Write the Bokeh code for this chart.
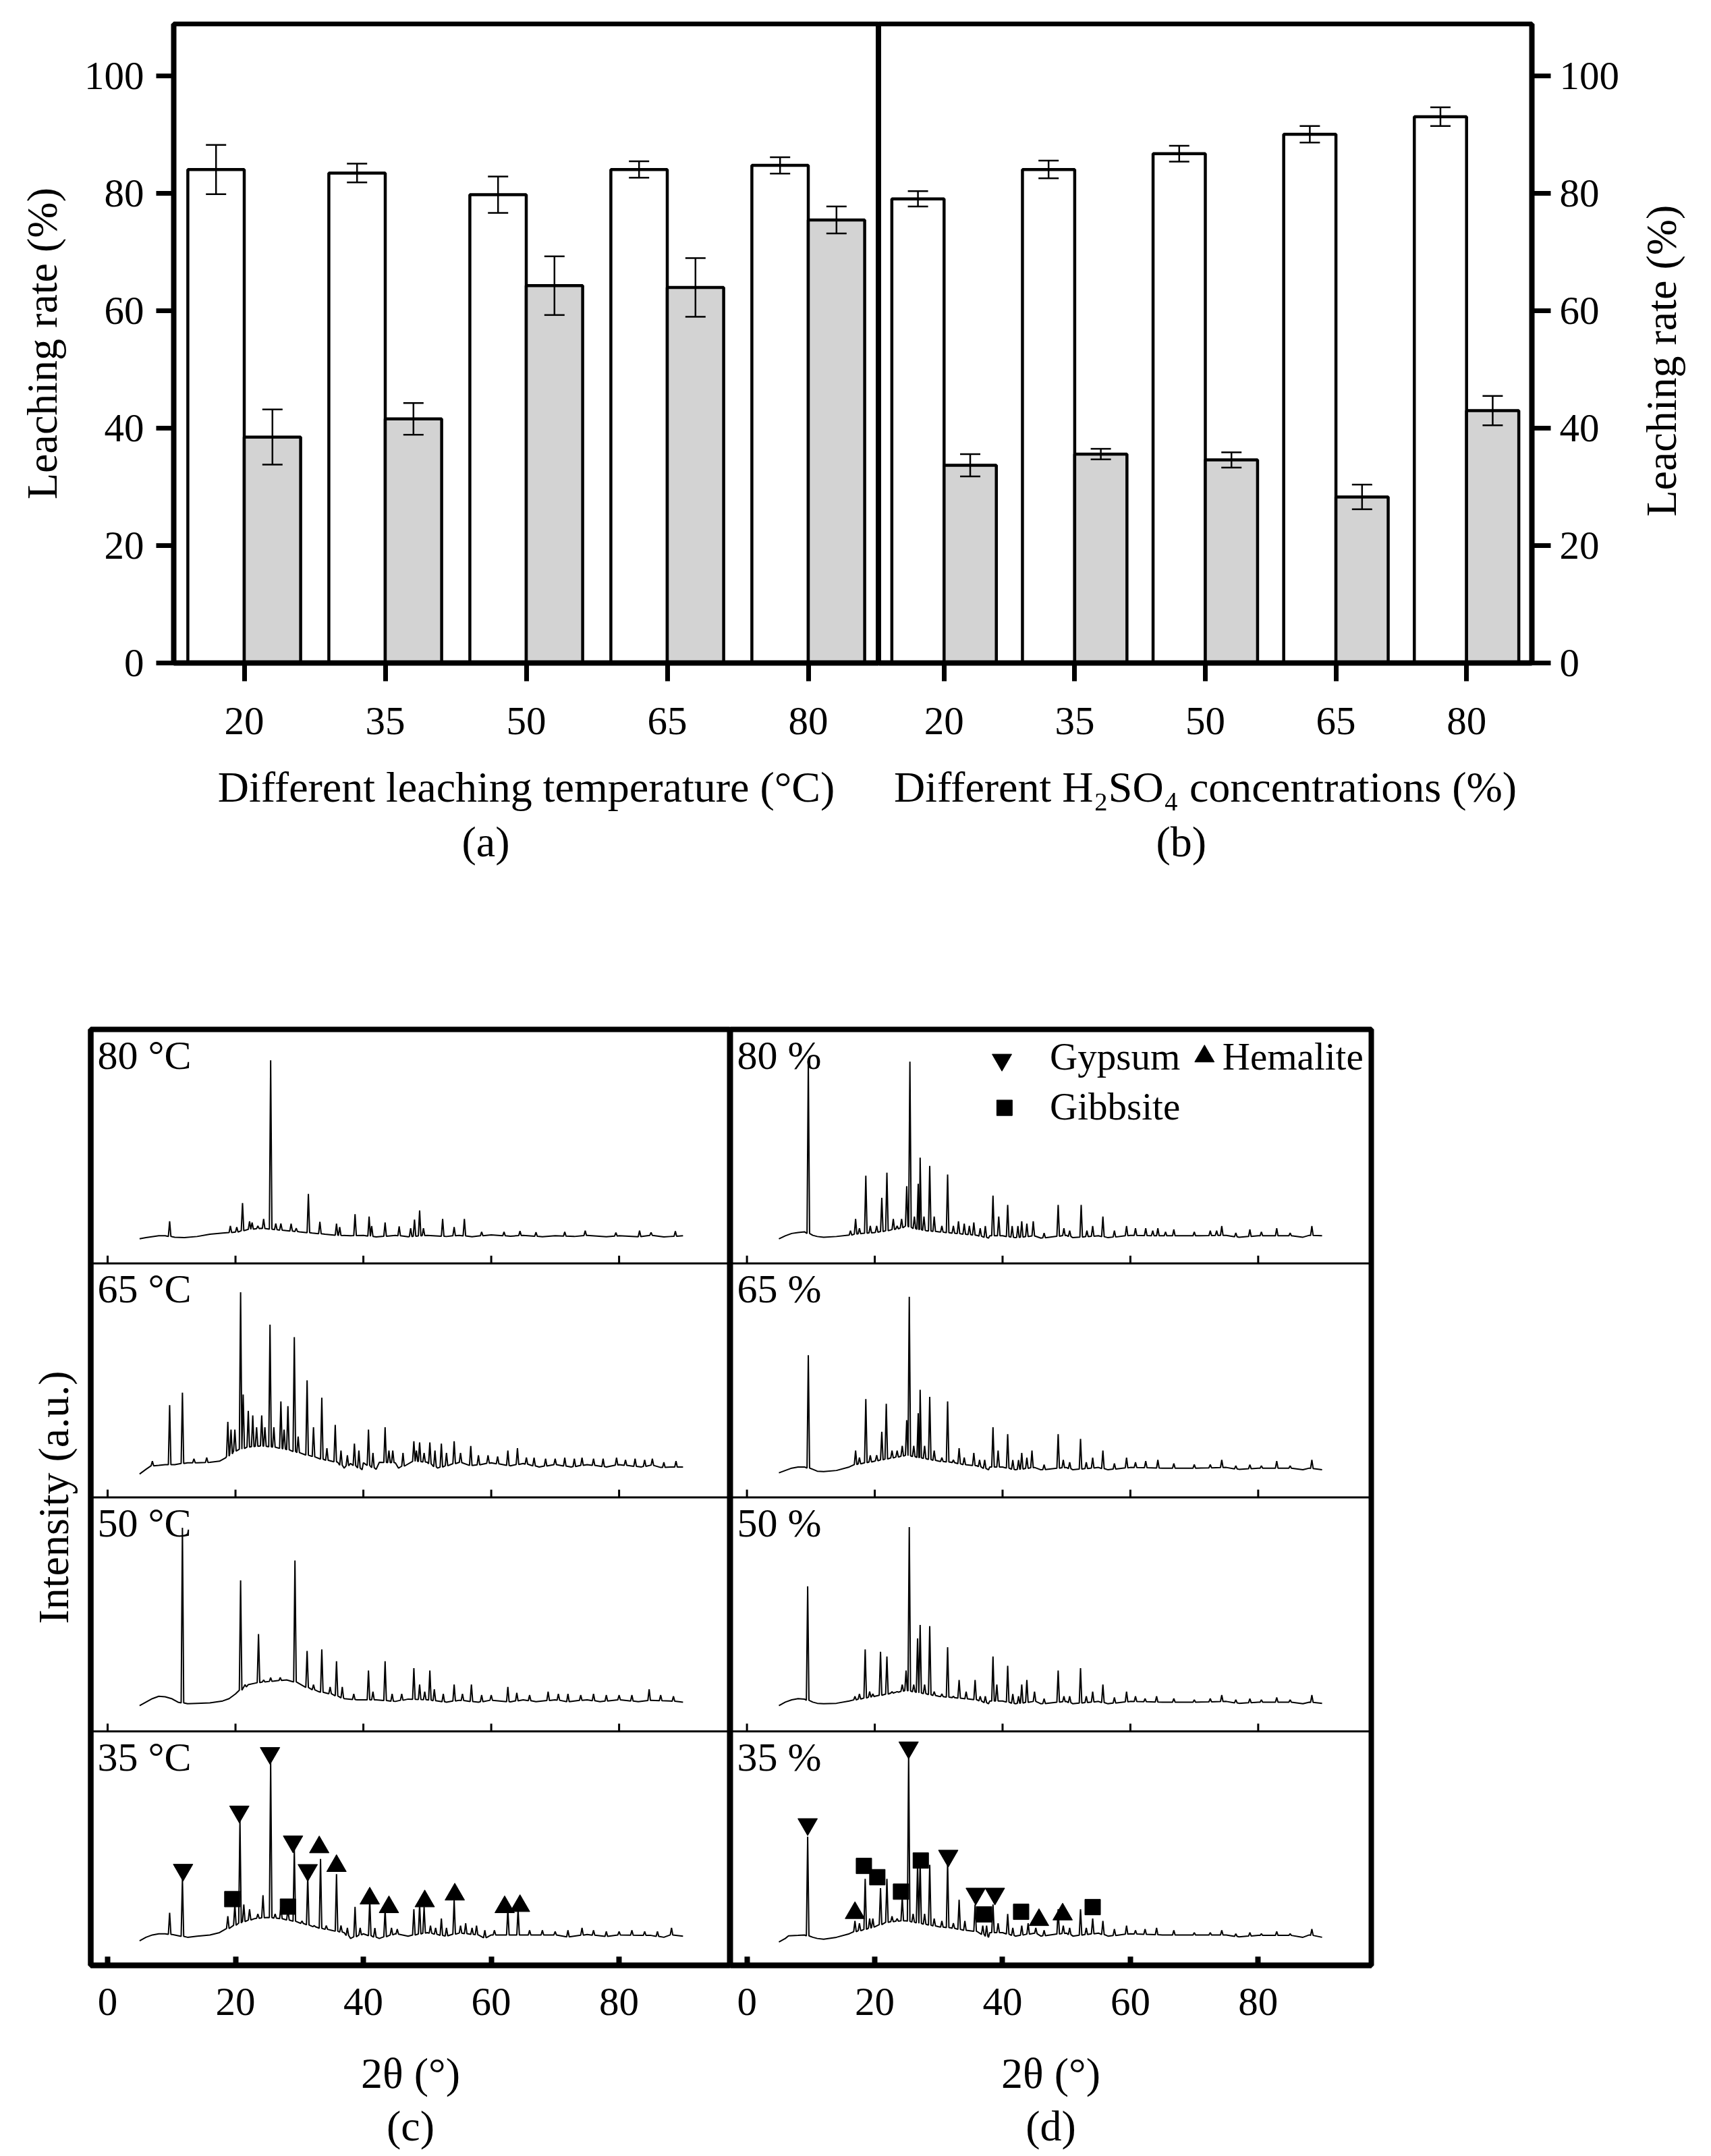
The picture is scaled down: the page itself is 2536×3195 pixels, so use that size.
import math
import numpy as np
from bokeh.plotting import figure
from bokeh.layouts import column, row
from bokeh.models import (ColumnDataSource, FactorRange, Range1d, FixedTicker,
                          Whisker, TeeHead, Span, Title)
from bokeh.transform import dodge
from bokeh.core.properties import value
from bokeh.embed import file_html
from bokeh.resources import INLINE

FONT = "Liberation Serif"
TICK_FS = "59px"
LABEL_FS = "64px"
PANEL_FS = "60px"
LEGEND_FS = "57px"

# ---------------- data: leaching rates ----------------
categories = ["20", "35", "50", "65", "80"]
temp_white = [84.1, 83.5, 79.8, 84.1, 84.8]
temp_white_err = [4.2, 1.6, 3.1, 1.4, 1.4]
temp_gray = [38.5, 41.6, 64.3, 64.0, 75.5]
temp_gray_err = [4.7, 2.7, 5.0, 5.0, 2.3]
conc_white = [79.1, 84.1, 86.8, 90.1, 93.1]
conc_white_err = [1.3, 1.5, 1.35, 1.4, 1.6]
conc_gray = [33.7, 35.6, 34.6, 28.3, 43.0]
conc_gray_err = [1.9, 0.9, 1.3, 2.1, 2.5]
rate_ticks = [0, 20, 40, 60, 80, 100]

# ---------------- data: XRD patterns (2theta, relative intensity within panel) ----------------
two_theta_ticks = [0, 20, 40, 60, 80]
c_labels = ["35 °C", "50 °C", "65 °C", "80 °C"]
d_labels = ["35 %", "50 %", "65 %", "80 %"]

c80_base = [(5, 0.105), (6, 0.11), (8, 0.118), (9, 0.118), (10.5, 0.112), (12, 0.11), (14, 0.115),
            (16, 0.125), (18, 0.13), (20, 0.133), (22, 0.145), (24, 0.15), (26, 0.145), (28, 0.14),
            (30, 0.135), (32, 0.13), (34, 0.125), (36, 0.12), (38, 0.118), (40, 0.12), (42, 0.113),
            (45, 0.12), (47, 0.114), (50, 0.12), (53, 0.115), (55, 0.12), (57, 0.114), (60, 0.122),
            (63, 0.116), (65, 0.12), (68, 0.114), (70, 0.118), (73, 0.115), (75, 0.12), (78, 0.114),
            (80, 0.118), (83, 0.114), (85, 0.12), (87, 0.113), (88, 0.115), (90, 0.118)]
c80_peaks = [(9.7, 0.18), (19.2, 0.16), (20.2, 0.155), (21.1, 0.258), (22.2, 0.18), (22.6, 0.175),
             (23.5, 0.16), (24.4, 0.19), (25.5, 0.868), (26.3, 0.17), (27.1, 0.17), (28.7, 0.17),
             (29.5, 0.15), (31.4, 0.297), (33.2, 0.178), (35.8, 0.17), (36.3, 0.155), (38.7, 0.21),
             (40.9, 0.2), (41.3, 0.16), (43.4, 0.175), (45.6, 0.158), (47.4, 0.15), (48.0, 0.187),
             (48.8, 0.226), (49.4, 0.15), (52.4, 0.19), (54.2, 0.155), (55.8, 0.19), (58.5, 0.135),
             (62, 0.135), (64.5, 0.138), (67, 0.133), (71.5, 0.135), (74.7, 0.14), (79.5, 0.132),
             (83.2, 0.14), (85.0, 0.132), (88.8, 0.138)]

c65_base = [(5, 0.10), (6, 0.12), (7, 0.135), (8, 0.137), (9, 0.14), (10.5, 0.14), (12.5, 0.148),
            (14, 0.148), (16, 0.15), (17.5, 0.155), (18.5, 0.17), (20, 0.2), (22, 0.215), (24, 0.22),
            (26, 0.215), (28, 0.205), (30, 0.19), (32, 0.175), (34, 0.16), (36, 0.15), (37, 0.125),
            (38, 0.145), (39.8, 0.118), (40, 0.148), (42, 0.12), (42.5, 0.15), (45, 0.148),
            (45.5, 0.125), (48, 0.155), (50, 0.15), (51.6, 0.125), (55, 0.15), (57, 0.135),
            (60, 0.148), (63, 0.135), (65, 0.145), (67.5, 0.13), (70, 0.14), (72.5, 0.13), (75, 0.14),
            (78, 0.13), (80, 0.14), (83.5, 0.13), (85, 0.138), (86.5, 0.128), (88, 0.13), (90, 0.13)]
c65_peaks = [(7.0, 0.155), (9.7, 0.394), (11.7, 0.448), (13.5, 0.165), (15.5, 0.17), (18.8, 0.323),
             (19.3, 0.29), (19.9, 0.29), (20.8, 0.877), (21.2, 0.44), (22.0, 0.37), (22.7, 0.35),
             (23.3, 0.3), (24.1, 0.35), (24.6, 0.3), (25.4, 0.738), (26.0, 0.3), (27.1, 0.41),
             (27.6, 0.29), (28.2, 0.39), (29.2, 0.685), (29.8, 0.26), (31.2, 0.5), (32.2, 0.3),
             (33.5, 0.426), (34.3, 0.21), (35.6, 0.31), (36.5, 0.2), (37.5, 0.18), (38.6, 0.23),
             (39.3, 0.2), (40.8, 0.29), (41.5, 0.19), (43.4, 0.3), (44.0, 0.2), (44.6, 0.2),
             (46.2, 0.19), (47.9, 0.24), (48.3, 0.2), (48.8, 0.235), (49.5, 0.19), (50.4, 0.235),
             (51.2, 0.2), (52.2, 0.23), (53.0, 0.19), (54.2, 0.24), (55.2, 0.19), (56.8, 0.22),
             (58.0, 0.18), (59.5, 0.18), (61.0, 0.175), (62.6, 0.2), (64.1, 0.21), (65.5, 0.17),
             (66.7, 0.17), (68.5, 0.165), (70.0, 0.165), (71.5, 0.17), (73.0, 0.165), (74.2, 0.17),
             (76.0, 0.165), (77.5, 0.165), (79.6, 0.17), (81.0, 0.16), (82.5, 0.165), (84.0, 0.16),
             (85.2, 0.165), (87.0, 0.15), (88.9, 0.155)]

c50_base = [(5, 0.11), (6, 0.125), (7, 0.14), (8, 0.15), (9, 0.148), (10, 0.14), (11, 0.125),
            (12.5, 0.118), (14, 0.12), (16, 0.122), (18, 0.13), (19, 0.14), (20, 0.16), (22, 0.2),
            (24, 0.21), (26, 0.215), (28, 0.22), (29.5, 0.21), (31, 0.19), (33, 0.17), (35, 0.16),
            (37, 0.14), (39, 0.135), (42, 0.135), (45, 0.128), (47, 0.138), (50, 0.135), (53, 0.125),
            (55, 0.133), (58, 0.125), (60, 0.133), (63, 0.126), (65, 0.135), (67, 0.127), (70, 0.135),
            (72, 0.127), (75, 0.135), (77, 0.127), (80, 0.135), (83, 0.127), (85, 0.133), (88, 0.13),
            (90, 0.125)]
c50_peaks = [(11.7, 0.87), (20.8, 0.645), (21.5, 0.2), (23.6, 0.416), (24.4, 0.22), (25.5, 0.23),
             (27.0, 0.23), (29.3, 0.73), (31.2, 0.344), (32.2, 0.2), (33.5, 0.35), (34.8, 0.19),
             (35.8, 0.3), (36.7, 0.19), (38.5, 0.16), (40.8, 0.26), (41.5, 0.17), (43.4, 0.3),
             (44.5, 0.16), (46.0, 0.16), (47.9, 0.27), (48.8, 0.2), (49.6, 0.17), (50.4, 0.26),
             (51.1, 0.18), (52.5, 0.16), (54.2, 0.2), (55.5, 0.16), (56.9, 0.2), (58.5, 0.155),
             (60.0, 0.155), (62.6, 0.19), (64.0, 0.165), (66, 0.155), (68.9, 0.17), (70.5, 0.16),
             (72, 0.16), (74, 0.155), (76, 0.16), (78, 0.155), (80, 0.155), (82, 0.155), (84.7, 0.18),
             (86.5, 0.155), (88.5, 0.15)]

c35_base = [(5, 0.105), (6, 0.12), (7, 0.13), (8, 0.135), (9, 0.135), (10.5, 0.13), (12.5, 0.12),
            (14, 0.125), (16, 0.13), (17.5, 0.14), (19, 0.16), (21, 0.185), (23, 0.2), (25, 0.205),
            (27, 0.2), (29, 0.19), (31, 0.175), (33, 0.16), (35, 0.15), (37, 0.14), (38, 0.115),
            (40, 0.135), (42.5, 0.115), (45, 0.135), (47, 0.125), (50, 0.14), (52.8, 0.125),
            (55, 0.138), (58, 0.13), (59, 0.118), (60, 0.13), (65, 0.13), (70, 0.13), (72, 0.122),
            (75, 0.132), (78, 0.124), (80, 0.13), (85, 0.128), (87, 0.12), (88, 0.13), (90, 0.125)]
c35_peaks = [(9.7, 0.225), (11.7, 0.37), (18.8, 0.21), (19.9, 0.26), (20.7, 0.62), (21.3, 0.26),
             (22.2, 0.24), (23.5, 0.22), (24.3, 0.3), (25.5, 0.867), (26.2, 0.22), (27.1, 0.25),
             (28.2, 0.24), (29.2, 0.495), (30.4, 0.19), (31.3, 0.38), (32.3, 0.17), (33.3, 0.455),
             (34.2, 0.17), (35.8, 0.39), (36.5, 0.17), (37.5, 0.16), (38.7, 0.25), (39.5, 0.16),
             (41.0, 0.28), (41.8, 0.16), (43.4, 0.24), (44.4, 0.16), (45.3, 0.155), (47.9, 0.24),
             (48.8, 0.26), (49.5, 0.25), (50.5, 0.17), (51.3, 0.16), (52.2, 0.2), (53.0, 0.16),
             (54.2, 0.28), (55.2, 0.17), (56.0, 0.18), (57.0, 0.16), (57.7, 0.17), (59.0, 0.15),
             (60.5, 0.15), (62.6, 0.24), (64.2, 0.24), (66, 0.15), (68, 0.15), (70, 0.145),
             (72, 0.15), (74.2, 0.16), (76, 0.15), (78, 0.145), (80, 0.145), (82, 0.15), (84, 0.145),
             (86, 0.145), (88.2, 0.16)]

d80_base = [(5, 0.105), (6, 0.118), (7, 0.128), (8, 0.132), (9, 0.135), (10.3, 0.12), (11, 0.115),
            (12, 0.112), (14, 0.115), (16, 0.12), (17, 0.125), (18, 0.128), (20, 0.132), (22, 0.14),
            (24, 0.15), (25, 0.16), (26, 0.15), (28, 0.14), (30, 0.135), (32, 0.13), (34, 0.125),
            (36, 0.12), (37.8, 0.108), (38, 0.118), (40, 0.118), (42, 0.11), (45, 0.118), (46, 0.108),
            (50, 0.12), (51, 0.11), (55, 0.118), (56.5, 0.11), (60, 0.12), (65, 0.118), (70, 0.118),
            (75, 0.12), (77, 0.112), (80, 0.118), (85, 0.118), (87, 0.112), (88, 0.12), (90, 0.118)]
d80_peaks = [(9.6, 0.862), (16.2, 0.14), (17.0, 0.19), (17.6, 0.15), (18.6, 0.375), (19.3, 0.16),
             (20.3, 0.16), (21.1, 0.28), (21.9, 0.388), (22.9, 0.19), (23.5, 0.16), (24.2, 0.19),
             (25.0, 0.33), (25.5, 0.862), (26.2, 0.2), (26.8, 0.34), (27.1, 0.452), (27.7, 0.2),
             (28.6, 0.417), (29.3, 0.2), (30.5, 0.16), (31.4, 0.38), (32.3, 0.16), (33.1, 0.18),
             (34.0, 0.17), (34.8, 0.16), (35.5, 0.175), (36.5, 0.15), (37.3, 0.16), (38.5, 0.29),
             (39.4, 0.2), (40.8, 0.25), (41.5, 0.16), (42.4, 0.16), (43.0, 0.18), (43.8, 0.17),
             (44.8, 0.18), (46.5, 0.13), (48.7, 0.25), (49.6, 0.15), (50.5, 0.14), (52.3, 0.25),
             (53.2, 0.14), (54.1, 0.16), (55.7, 0.2), (57.5, 0.14), (59.4, 0.16), (60.8, 0.15),
             (62.4, 0.15), (63.5, 0.14), (64.3, 0.15), (65.5, 0.135), (66.8, 0.145), (70, 0.135),
             (72.5, 0.14), (73.5, 0.14), (74.3, 0.16), (76.5, 0.13), (78.7, 0.145), (80.5, 0.135),
             (82.9, 0.15), (85, 0.13), (88.4, 0.16)]

d65_base = [(5, 0.105), (6, 0.115), (7, 0.125), (8, 0.13), (9, 0.13), (10.3, 0.12), (11, 0.112),
            (12, 0.11), (14, 0.115), (16, 0.13), (17, 0.14), (18, 0.145), (20, 0.155), (22, 0.165),
            (24, 0.175), (25, 0.18), (26, 0.175), (28, 0.165), (30, 0.155), (32, 0.15), (34, 0.14),
            (36, 0.135), (37.8, 0.118), (38, 0.13), (40, 0.13), (42, 0.118), (45, 0.128),
            (46, 0.118), (50, 0.128), (51, 0.118), (55, 0.128), (56.5, 0.118), (60, 0.128),
            (65, 0.125), (70, 0.125), (75, 0.128), (77, 0.12), (80, 0.125), (85, 0.125), (87, 0.118),
            (88, 0.125), (90, 0.118)]
d65_peaks = [(9.6, 0.608), (17.0, 0.2), (17.6, 0.17), (18.6, 0.42), (19.3, 0.18), (20.3, 0.18),
             (21.1, 0.28), (21.8, 0.4), (22.7, 0.2), (23.5, 0.2), (24.3, 0.22), (25.0, 0.33),
             (25.4, 0.857), (26.1, 0.22), (26.8, 0.36), (27.1, 0.46), (27.8, 0.22), (28.6, 0.43),
             (29.3, 0.2), (30.5, 0.17), (31.4, 0.41), (32.3, 0.16), (33.2, 0.21), (34.0, 0.17),
             (35.5, 0.19), (36.4, 0.16), (37.2, 0.16), (38.5, 0.3), (39.3, 0.2), (40.8, 0.27),
             (41.6, 0.16), (42.5, 0.16), (43.0, 0.19), (43.8, 0.17), (44.6, 0.2), (46.5, 0.14),
             (48.7, 0.27), (49.5, 0.16), (50.5, 0.15), (52.2, 0.25), (53.1, 0.15), (54.1, 0.17),
             (55.7, 0.2), (57.5, 0.145), (59.4, 0.17), (60.8, 0.15), (62.4, 0.155), (64.3, 0.16),
             (66.8, 0.145), (70, 0.14), (72.5, 0.14), (74.3, 0.16), (76.5, 0.135), (78.7, 0.14),
             (80.5, 0.135), (82.9, 0.155), (85, 0.135), (88.4, 0.16)]

d50_base = [(5, 0.11), (6, 0.125), (7, 0.135), (8, 0.14), (9, 0.138), (10.3, 0.125), (11, 0.12),
            (12, 0.118), (14, 0.12), (16, 0.13), (17, 0.135), (18, 0.14), (20, 0.15), (22, 0.16),
            (24, 0.17), (25, 0.175), (26, 0.17), (28, 0.16), (30, 0.15), (32, 0.145), (34, 0.14),
            (36, 0.135), (37.8, 0.118), (38, 0.13), (40, 0.13), (42, 0.118), (45, 0.128),
            (46, 0.118), (50, 0.128), (51, 0.118), (55, 0.128), (56.5, 0.118), (60, 0.128),
            (65, 0.125), (70, 0.125), (75, 0.128), (77, 0.12), (80, 0.125), (85, 0.125),
            (87, 0.118), (88, 0.125), (90, 0.12)]
d50_peaks = [(9.5, 0.62), (16.9, 0.15), (17.6, 0.16), (18.5, 0.35), (19.2, 0.17), (19.7, 0.16),
             (20.9, 0.34), (21.9, 0.32), (22.7, 0.17), (23.5, 0.17), (24.3, 0.2), (24.9, 0.26),
             (25.4, 0.873), (26.1, 0.2), (26.7, 0.397), (27.1, 0.455), (27.8, 0.2), (28.6, 0.45),
             (29.3, 0.17), (30.5, 0.16), (31.4, 0.36), (32.3, 0.15), (33.2, 0.22), (34.3, 0.17),
             (35.7, 0.22), (36.5, 0.15), (37.3, 0.15), (38.5, 0.32), (39.1, 0.2), (40.8, 0.28),
             (41.6, 0.16), (42.5, 0.15), (43.0, 0.2), (43.8, 0.22), (45.0, 0.17), (46.5, 0.14),
             (48.7, 0.26), (49.6, 0.15), (50.5, 0.15), (52.2, 0.27), (53.1, 0.15), (54.1, 0.17),
             (55.7, 0.2), (57.5, 0.145), (59.4, 0.17), (60.8, 0.15), (62.3, 0.14), (64.1, 0.15),
             (66.8, 0.14), (70, 0.135), (72.5, 0.14), (74.3, 0.155), (76.5, 0.135), (78.7, 0.14),
             (80.5, 0.135), (82.9, 0.145), (85, 0.135), (88.4, 0.155)]

d35_base = [(5, 0.1), (6, 0.115), (6.5, 0.126), (8, 0.128), (9, 0.13), (10.3, 0.12), (11, 0.115),
            (12, 0.112), (14, 0.12), (16, 0.135), (17, 0.145), (18, 0.15), (20, 0.165), (22, 0.185),
            (24, 0.19), (25, 0.19), (26, 0.185), (28, 0.175), (30, 0.165), (32, 0.16), (34, 0.15),
            (36, 0.145), (37.8, 0.12), (38, 0.14), (40, 0.14), (42, 0.125), (45, 0.138),
            (46, 0.125), (50, 0.138), (51, 0.125), (55, 0.138), (56.5, 0.125), (60, 0.135),
            (65, 0.13), (70, 0.13), (75, 0.13), (77, 0.122), (80, 0.128), (85, 0.128), (87, 0.12),
            (88, 0.13), (90, 0.12)]
d35_peaks = [(9.5, 0.55), (16.9, 0.19), (17.6, 0.18), (18.5, 0.37), (19.2, 0.2), (19.7, 0.2),
             (20.9, 0.33), (21.9, 0.37), (22.7, 0.21), (23.5, 0.2), (24.3, 0.29), (25.3, 0.9),
             (26.0, 0.22), (26.7, 0.43), (27.1, 0.44), (27.8, 0.22), (28.6, 0.43), (29.3, 0.2),
             (30.5, 0.19), (31.4, 0.44), (32.3, 0.18), (33.2, 0.28), (34.1, 0.19), (35.7, 0.26),
             (36.9, 0.17), (37.5, 0.17), (38.5, 0.26), (39.3, 0.18), (40.8, 0.22), (41.6, 0.16),
             (43.0, 0.17), (44.0, 0.18), (45.2, 0.16), (46.5, 0.15), (48.7, 0.24), (49.5, 0.17),
             (50.5, 0.16), (52.2, 0.24), (53.1, 0.16), (54.1, 0.2), (55.7, 0.19), (57.5, 0.155),
             (59.4, 0.17), (60.8, 0.15), (62.3, 0.155), (64.1, 0.16), (66.8, 0.15), (70, 0.14),
             (72.5, 0.14), (74.3, 0.15), (76.5, 0.135), (78.7, 0.14), (80.5, 0.135), (82.9, 0.145),
             (85, 0.135), (88.4, 0.155)]

# phase marks (2theta, height) in the 35 panels
c35_gypsum = [(11.8, 0.408), (20.6, 0.657), (25.4, 0.907), (29.0, 0.529), (31.3, 0.407)]
c35_gibbsite = [(19.5, 0.283), (28.2, 0.251)]
c35_hemalite = [(33.1, 0.505), (35.8, 0.425), (41.0, 0.286), (44.0, 0.249), (49.6, 0.274),
                (54.3, 0.303), (62.1, 0.249), (64.5, 0.254)]
d35_gypsum = [(9.5, 0.603), (25.3, 0.931), (31.5, 0.468), (35.8, 0.306), (38.8, 0.306)]
d35_gibbsite = [(18.3, 0.425), (20.4, 0.377), (24.1, 0.315), (27.2, 0.448), (37.1, 0.218),
                (42.9, 0.229), (54.1, 0.249)]
d35_hemalite = [(16.9, 0.224), (45.7, 0.194), (49.4, 0.218)]
phase_names = ["Gypsum", "Hemalite", "Gibbsite"]


# ---------------- helpers ----------------
def style_axis(ax, tick_out, tick_in, tick_w, label_standoff, axis_label_standoff):
    ax.axis_line_width = 8
    ax.axis_line_color = "black"
    ax.major_tick_line_width = tick_w
    ax.major_tick_line_color = "black"
    ax.major_tick_out = tick_out
    ax.major_tick_in = tick_in
    ax.minor_tick_line_color = None
    ax.major_label_text_font = FONT
    ax.major_label_text_font_size = TICK_FS
    ax.major_label_text_color = "black"
    ax.major_label_standoff = label_standoff
    ax.axis_label_text_font = FONT
    ax.axis_label_text_font_size = LABEL_FS
    ax.axis_label_text_font_style = "normal"
    ax.axis_label_text_color = "black"
    ax.axis_label_standoff = axis_label_standoff


def bar_panel(white, werr, gray, gerr, xlabel, tag, tag_offset, frame_w, side, bl, br):
    src = ColumnDataSource(dict(
        cat=categories, white=white, gray=gray,
        wu=[v + e for v, e in zip(white, werr)], wl=[v - e for v, e in zip(white, werr)],
        gu=[v + e for v, e in zip(gray, gerr)], gl=[v - e for v, e in zip(gray, gerr)]))
    p = figure(x_range=FactorRange(factors=categories, range_padding=0),
               y_range=Range1d(0, 108.9), frame_width=frame_w, frame_height=947,
               y_axis_location=side, output_backend="svg", toolbar_location=None,
               min_border_top=35, min_border_bottom=311, min_border_left=bl, min_border_right=br)
    p.vbar(x=dodge("cat", -0.2, range=p.x_range), top="white", width=0.4, source=src,
           fill_color="white", line_color="black", line_width=4.5)
    p.vbar(x=dodge("cat", 0.2, range=p.x_range), top="gray", width=0.4, source=src,
           fill_color="#d3d3d3", line_color="black", line_width=4.5)
    for off, u, l in [(-0.2, "wu", "wl"), (0.2, "gu", "gl")]:
        w = Whisker(base=dodge("cat", off, range=p.x_range), upper=u, lower=l, source=src,
                    line_width=2.5, line_color="black", level="overlay",
                    upper_head=TeeHead(size=30, line_width=2.5, line_color="black"),
                    lower_head=TeeHead(size=30, line_width=2.5, line_color="black"))
        p.add_layout(w)
    p.xgrid.visible = False
    p.ygrid.visible = False
    p.outline_line_color = "black"
    p.outline_line_width = 7
    p.outline_line_alpha = 1
    p.yaxis.ticker = FixedTicker(ticks=rate_ticks)
    p.xaxis.axis_label = xlabel
    style_axis(p.xaxis[0], 27, 0, 7, 39, 40)
    if side == "left":
        p.yaxis.axis_label = "Leaching rate (%)"
        style_axis(p.yaxis[0], 26, 0, 7, 18, 24)
    else:
        style_axis(p.yaxis[0], 28, 0, 7, 13, 20)
    p.add_layout(Title(text=tag, align="left", offset=tag_offset, text_font=FONT,
                       text_font_size=LABEL_FS, text_font_style="normal", text_color="black"),
                 "below")
    return p


def side_title(text):
    # narrow companion figure that carries the right-hand axis title (reads bottom-to-top)
    p = figure(x_range=Range1d(0, 1), y_range=Range1d(0, 108.9), frame_width=80,
               frame_height=947, output_backend="svg", toolbar_location=None,
               x_axis_location=None, y_axis_location=None,
               min_border_top=35, min_border_bottom=311, min_border_left=0, min_border_right=0)
    p.outline_line_color = None
    p.grid.visible = False
    for g in p.renderers:
        pass
    p.text(x=[0.5], y=[51.5], text=[text], angle=math.pi / 2, text_font=value(FONT),
           text_font_size=LABEL_FS, text_align="center", text_baseline="middle",
           text_color="black")
    return p


def trace(base, peaks, w=0.2):
    bx = np.array([b[0] for b in base])
    by = np.array([b[1] for b in base])
    px = [q[0] for q in peaks]
    pts = [(x, y) for x, y in zip(bx, by) if all(abs(x - q) > w for q in px)]
    for x, top in peaks:
        b = float(np.interp(x, bx, by))
        pts += [(x - w, b), (x, top), (x + w, b)]
    pts.sort(key=lambda t: t[0])
    return [t[0] for t in pts], [t[1] for t in pts]


def xrd_panel(x0, x1, frame_w, patterns, labels, marks, tag, bl, br, show_y):
    p = figure(x_range=Range1d(x0, x1), y_range=Range1d(0, 4), frame_width=frame_w,
               frame_height=1387, output_backend="svg", toolbar_location=None,
               min_border_top=232, min_border_bottom=267, min_border_left=bl, min_border_right=br)
    for k, (base, peaks) in enumerate(patterns):
        xs, ys = trace(base, peaks)
        p.line(xs, [y + k for y in ys], line_color="black", line_width=2)
    for k in (1, 2, 3):
        p.add_layout(Span(location=k, dimension="width", line_color="black", line_width=3))
    tx, ty0, ty1 = [], [], []
    for k in (1, 2, 3):
        for t in two_theta_ticks:
            tx.append(t); ty0.append(k); ty1.append(k + 0.033)
    p.segment(x0=tx, y0=ty0, x1=tx, y1=ty1, line_color="black", line_width=3)
    p.text(x=[x0 + 1.05] * 4, y=[k + 0.985 for k in range(4)], text=labels,
           text_font=value(FONT), text_font_size=PANEL_FS, text_baseline="top", text_align="left",
           text_color="black")
    gyp, gib, hem = marks
    p.scatter([m[0] for m in gyp], [m[1] for m in gyp], marker="inverted_triangle", size=29,
              color="black")
    p.scatter([m[0] for m in hem], [m[1] for m in hem], marker="triangle", size=29, color="black")
    p.scatter([m[0] for m in gib], [m[1] for m in gib], marker="square", size=23, color="black")
    p.xgrid.visible = False
    p.ygrid.visible = False
    p.outline_line_color = "black"
    p.outline_line_width = 8
    p.outline_line_alpha = 1
    p.xaxis.ticker = FixedTicker(ticks=two_theta_ticks)
    p.xaxis.axis_label = "2θ (°)\n" + tag
    style_axis(p.xaxis[0], 0, 13, 8, 34, 48)
    p.xaxis.axis_label_text_line_height = 1.1
    if show_y:
        p.yaxis.ticker = FixedTicker(ticks=[])
        p.yaxis.axis_label = "Intensity (a.u.)"
        style_axis(p.yaxis[0], 0, 0, 0, 0, 20)
    else:
        p.yaxis.visible = False
    return p


# ---------------- build ----------------
pa = bar_panel(temp_white, temp_white_err, temp_gray, temp_gray_err,
               "Different leaching temperature (°C)", "(a)", 427, 1045, "left", 257, 0)
pb = bar_panel(conc_white, conc_white_err, conc_gray, conc_gray_err,
               "Different H\u2082SO\u2084 concentrations (%)", "(b)", 411, 968, "right", 0, 152)
pr = side_title("Leaching rate (%)")

pc = xrd_panel(-2.64, 97.4, 948,
               [(c35_base, c35_peaks), (c50_base, c50_peaks), (c65_base, c65_peaks), (c80_base, c80_peaks)],
               c_labels, (c35_gypsum, c35_gibbsite, c35_hemalite), "(c)", 134, 0, True)
pd_ = xrd_panel(-2.6, 97.7, 950,
                [(d35_base, d35_peaks), (d50_base, d50_peaks), (d65_base, d65_peaks), (d80_base, d80_peaks)],
                d_labels, (d35_gypsum, d35_gibbsite, d35_hemalite), "(d)", 0, 480, False)

# legend for the phases, in panel (d) top row
leg_marker_x = [39.9, 71.6, 40.3]
leg_marker_y = [3.87, 3.885, 3.665]
leg_markers = ["inverted_triangle", "triangle", "square"]
leg_sizes = [29, 29, 23]
for mx, my, mk, ms in zip(leg_marker_x, leg_marker_y, leg_markers, leg_sizes):
    pd_.scatter([mx], [my], marker=mk, size=ms, color="black")
pd_.text(x=[47.4, 74.4, 47.4], y=[3.885, 3.885, 3.67], text=phase_names,
         text_font=value(FONT), text_font_size=LEGEND_FS, text_baseline="middle",
         text_align="left", text_color="black")

layout = column(row(pa, pb, pr), row(pc, pd_))
open("out.html", "w").write(file_html(layout, INLINE, title="Leaching and XRD"))
